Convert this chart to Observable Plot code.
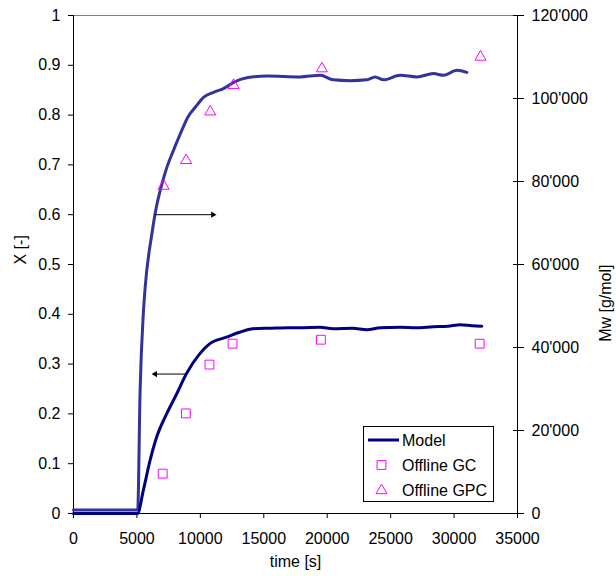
<!DOCTYPE html>
<html>
<head>
<meta charset="utf-8">
<script src="https://cdn.jsdelivr.net/npm/d3@7"></script>
<script src="https://cdn.jsdelivr.net/npm/@observablehq/plot@0.6"></script>
<style>
  body { margin: 0; background: #fff; }
  #chart svg { font-family: "Liberation Sans", Arial, sans-serif; }
</style>
</head>
<body>
<div id="chart"></div>
<script>
// ---- Data ----
const MW_MAX = 120000; // right axis maximum, maps to X = 1

// Model conversion X [-]
const modelXTime = [0, 5050, 5500, 6030, 6550, 7340, 8130, 8910, 9960, 10750, 12060, 13100, 14150, 15500, 17000, 17870, 19440, 20480, 22000, 23120, 24180, 25750, 27000, 28380, 29500, 30490, 31400, 32190];
const modelX = [0, 0, 0.046, 0.106, 0.153, 0.200, 0.240, 0.281, 0.321, 0.341, 0.354, 0.364, 0.371, 0.372, 0.373, 0.373, 0.374, 0.371, 0.372, 0.369, 0.373, 0.374, 0.373, 0.375, 0.376, 0.379, 0.377, 0.376];

// Model Mw [g/mol]
const modelMwTime = [0, 5060, 5250, 5500, 5650, 6180, 6430, 6970, 7360, 7880, 8410, 9010, 9600, 10250, 11030, 11820, 12620, 13670, 15240, 17870, 19450, 20480, 21810, 23130, 23780, 24440, 25750, 27060, 28380, 29170, 30230, 31010];
const modelMw = [840, 840, 29600, 48000, 54500, 67400, 72200, 79400, 83400, 87500, 91400, 95500, 97900, 100300, 101500, 102400, 103900, 105000, 105400, 105200, 105600, 104500, 104300, 104500, 105200, 104500, 105600, 105200, 106000, 105600, 106800, 106300];

// Offline GC (conversion)
const gcTime = [7030, 8860, 10720, 12540, 19500, 32020];
const gcX = [0.080, 0.201, 0.299, 0.341, 0.349, 0.341];

// Offline GPC (Mw)
const gpcTime = [7100, 8880, 10780, 12620, 19580, 32080];
const gpcMw = [78900, 85100, 96800, 103200, 107200, 110000];

// Annotation arrows (time from, time to, X level)
const arrowFrom = [6420, 8800];
const arrowTo = [10990, 6440];
const arrowLevel = [0.6, 0.28];

// Ticks
const timeTicks = [0, 5000, 10000, 15000, 20000, 25000, 30000, 35000];
const xTicks = [0, 0.1, 0.2, 0.3, 0.4, 0.5, 0.6, 0.7, 0.8, 0.9, 1];
const mwTicks = [0, 20000, 40000, 60000, 80000, 100000, 120000];

const legendLabels = ["Model", "Offline GC", "Offline GPC"];

// ---- Colours ----
const navy = "#000080";
const mwBlue = "#333399";
const magenta = "#FF00FF";

const fmtMw = v => v === 0 ? "0" : d3.format(",")(v).replace(/,/g, "'");
const idx = a => d3.range(a.length);

function legendMark(index, scales, values, dims) {
  const g = d3.create("svg:g");
  const w = 130, h = 75;
  const x0 = dims.width - dims.marginRight - 24 - w;
  const y0 = dims.height - dims.marginBottom - 12 - h;
  g.append("rect").attr("x", x0 + 0.5).attr("y", y0 + 0.5)
    .attr("width", w).attr("height", h)
    .attr("fill", "white").attr("stroke", "black").attr("stroke-width", 1);
  const rows = [14, 39, 64.5];
  g.append("line").attr("x1", x0 + 5).attr("x2", x0 + 36)
    .attr("y1", y0 + rows[0]).attr("y2", y0 + rows[0])
    .attr("stroke", navy).attr("stroke-width", 3);
  g.append("path").attr("transform", `translate(${x0 + 18.5},${y0 + rows[1]})`)
    .attr("d", d3.symbol(d3.symbolSquare, Math.PI * 25)())
    .attr("fill", "none").attr("stroke", magenta).attr("stroke-width", 1);
  g.append("path").attr("transform", `translate(${x0 + 18.5},${y0 + rows[2]})`)
    .attr("d", d3.symbol(d3.symbolTriangle, Math.PI * 4.1 * 4.1)())
    .attr("fill", "none").attr("stroke", magenta).attr("stroke-width", 1);
  legendLabels.forEach((t, i) => {
    g.append("text").attr("x", x0 + 39).attr("y", y0 + rows[i])
      .attr("dy", "0.35em").attr("text-anchor", "start")
      .attr("fill", "black").attr("font-size", 16).text(t);
  });
  return g.node();
}

const chart = Plot.plot({
  width: 616,
  height: 576,
  marginLeft: 73,
  marginRight: 99,
  marginTop: 15,
  marginBottom: 63,
  style: { fontSize: "16px", fontFamily: "Liberation Sans, Arial, sans-serif", background: "white", color: "black" },
  x: { domain: [0, 35000] },
  y: { domain: [0, 1] },
  marks: [
    Plot.ruleY([1], { stroke: "#808080", strokeWidth: 1 }),
    Plot.axisX({ ticks: timeTicks, tickSize: 5, tickPadding: 14, tickFormat: d => String(d), label: null }),
    Plot.axisY({ anchor: "left", ticks: xTicks, tickSize: 5, tickPadding: 8, tickFormat: d => String(+d.toFixed(1)), label: null }),
    Plot.axisY({ anchor: "right", ticks: mwTicks.map(v => v / MW_MAX), tickSize: 11, dx: -5, tickPadding: 8, tickFormat: v => fmtMw(Math.round(v * MW_MAX)), label: null }),
    Plot.ruleX([0], { stroke: "black" }),
    Plot.ruleX([35000], { stroke: "black" }),
    Plot.ruleY([0], { stroke: "black" }),
    Plot.line(idx(modelMwTime), { x: i => modelMwTime[i], y: i => modelMw[i] / MW_MAX, stroke: mwBlue, strokeWidth: 3, curve: "monotone-x", strokeLinejoin: "round" }),
    Plot.line(idx(modelXTime), { x: i => modelXTime[i], y: i => modelX[i], stroke: navy, strokeWidth: 3, curve: "monotone-x", strokeLinejoin: "round" }),
    Plot.dot(idx(gcTime), { x: i => gcTime[i], y: i => gcX[i], symbol: "square", r: 5, stroke: magenta, fill: "none", strokeWidth: 1 }),
    Plot.dot(idx(gpcTime), { x: i => gpcTime[i], y: i => gpcMw[i] / MW_MAX, symbol: "triangle", r: 4.1, stroke: magenta, fill: "none", strokeWidth: 1 }),
    Plot.link(idx(arrowFrom), { x1: i => arrowFrom[i], x2: i => arrowTo[i], y1: i => arrowLevel[i], y2: i => arrowLevel[i], stroke: "black", strokeWidth: 1 }),
    Plot.dot(idx(arrowFrom), {
      x: i => arrowTo[i], y: i => arrowLevel[i], symbol: "triangle", r: 2.3, fill: "black", stroke: "none",
      rotate: i => arrowTo[i] > arrowFrom[i] ? 90 : -90
    }),
    Plot.text(["X [-]"], { frameAnchor: "left", dx: -53, rotate: -90, fontSize: 16, fill: "black" }),
    Plot.text(["Mw [g/mol]"], { frameAnchor: "right", dx: 88, rotate: -90, fontSize: 16, fill: "black" }),
    Plot.text(["time [s]"], { frameAnchor: "bottom", dy: 53, fontSize: 16, fill: "black" }),
    legendMark
  ]
});
document.getElementById("chart").appendChild(chart);
</script>
</body>
</html>
